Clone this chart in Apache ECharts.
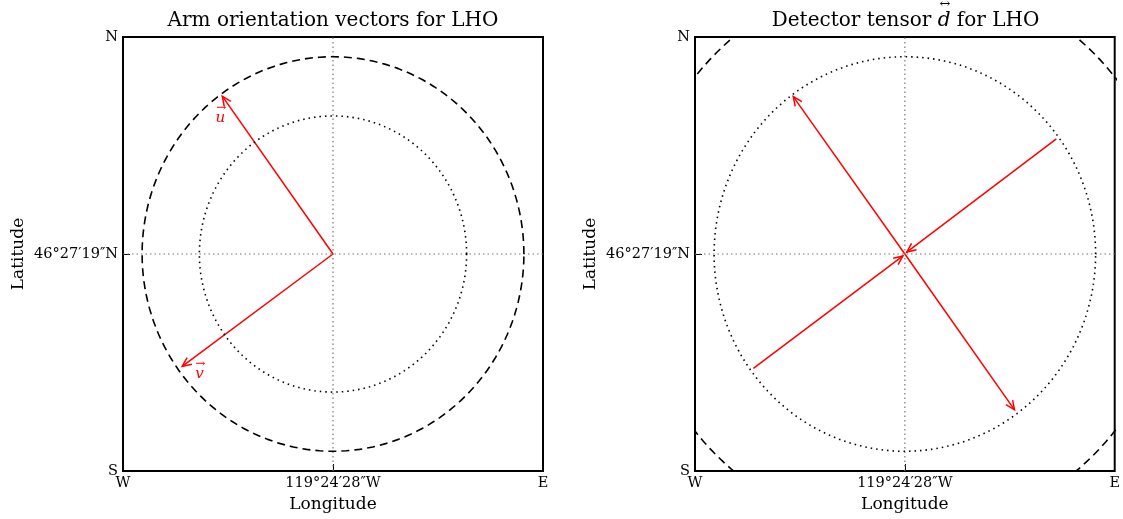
<!DOCTYPE html>
<html>
<head>
<meta charset="utf-8">
<script src="https://cdn.jsdelivr.net/npm/echarts@6/dist/echarts.min.js"></script>
<style>html,body{margin:0;padding:0;background:#fff}#c{width:1123px;height:519px}</style>
</head>
<body>
<div id="c"></div>
<script>
// ---- data ----
const axisMin = -1.1, axisMax = 1.1;
const tickValues = [-1.1, 0, 1.1];
const xTickLabels = ['W', '119°24′28″W', 'E'];
const yTickLabels = ['S', '46°27′19″N', 'N'];
const leftCircleRadii = [1.0, 0.7];      // dashed, dotted
const rightCircleRadii = [1.42, 1.0];    // dashed, dotted
const armU = [-0.58, 0.80];
const armV = [-0.79, -0.57];
const uLabelPos = [-0.59, 0.70];
const vLabelPos = [-0.70, -0.60];
// right panel: [x0, y0, x1, y1] (arrow head at x1,y1)
const tensorOutward = [[0, 0, -0.585, 0.798], [0, 0, 0.575, -0.79]];
const tensorInward = [[0.794, 0.584, 0.01, 0.01], [-0.794, -0.58, -0.01, -0.01]];

const FONT = '"DejaVu Serif", serif';
const RED = '#ff0000';

function circlePoints(r) {
  const pts = [];
  for (let i = 0; i <= 360; i += 2) {
    const a = i * Math.PI / 180;
    pts.push([r * Math.cos(a), r * Math.sin(a)]);
  }
  return pts;
}

function labelFor(labels) {
  return function (v) {
    for (let i = 0; i < tickValues.length; i++) if (Math.abs(tickValues[i] - v) < 1e-6) return labels[i];
    return '';
  };
}

const grids = [
  { left: 123, top: 37, width: 420, height: 434 },
  { left: 695, top: 37, width: 421, height: 434 }
];

function makeX(i) {
  return {
    type: 'value', gridIndex: i, min: axisMin, max: axisMax,
    axisLine: { show: false, onZero: false },
    splitLine: { show: false },
    axisTick: { show: true, inside: true, length: 7, customValues: [0], lineStyle: { color: '#000', width: 1 } },
    axisLabel: { customValues: tickValues, formatter: labelFor(xTickLabels), color: '#000', fontFamily: FONT, fontSize: 14.5, margin: 5 },
    name: 'Longitude', nameLocation: 'middle', nameGap: 25,
    nameTextStyle: { color: '#000', fontFamily: FONT, fontSize: 17 }
  };
}
function makeY(i) {
  return {
    type: 'value', gridIndex: i, min: axisMin, max: axisMax,
    axisLine: { show: false, onZero: false },
    splitLine: { show: false },
    axisTick: { show: true, inside: true, length: 7, customValues: [0], lineStyle: { color: '#000', width: 1 } },
    axisLabel: { customValues: tickValues, formatter: labelFor(yTickLabels), color: '#000', fontFamily: FONT, fontSize: 14.5, margin: 5 },
    name: 'Latitude', nameLocation: 'middle', nameGap: 96,
    nameTextStyle: { color: '#000', fontFamily: FONT, fontSize: 17 }
  };
}

function lineSeries(i, data, type, color, width) {
  return {
    type: 'line', xAxisIndex: i, yAxisIndex: i, data: data, showSymbol: false, symbol: 'none',
    clip: true, silent: true, smooth: false,
    lineStyle: { color: color, width: width, type: type }
  };
}

function arrowSeries(i, data) {
  return {
    type: 'custom', xAxisIndex: i, yAxisIndex: i, data: data, silent: true, clip: false,
    encode: { x: [0, 2], y: [1, 3] },
    renderItem: function (params, api) {
      const p0 = api.coord([api.value(0), api.value(1)]);
      const p1 = api.coord([api.value(2), api.value(3)]);
      const ang = Math.atan2(p1[1] - p0[1], p1[0] - p0[0]);
      const L = 10, h = 0.42;
      const b1 = [p1[0] - L * Math.cos(ang - h), p1[1] - L * Math.sin(ang - h)];
      const b2 = [p1[0] - L * Math.cos(ang + h), p1[1] - L * Math.sin(ang + h)];
      return {
        type: 'group', children: [
          { type: 'line', shape: { x1: p0[0], y1: p0[1], x2: p1[0], y2: p1[1] }, style: { stroke: RED, lineWidth: 1.5 } },
          { type: 'polyline', shape: { points: [b1, p1, b2] }, style: { stroke: RED, fill: null, lineWidth: 1.5 } }
        ]
      };
    }
  };
}

function vecLabelSeries(i, data, names) {
  return {
    type: 'custom', xAxisIndex: i, yAxisIndex: i, data: data, silent: true,
    renderItem: function (params, api) {
      const p = api.coord([api.value(0), api.value(1)]);
      const n = names[params.dataIndex];
      return {
        type: 'group', children: [
          { type: 'text', x: p[0], y: p[1] + 2, style: { text: n, fill: RED, font: 'italic 15px ' + FONT, align: 'center', verticalAlign: 'middle' } },
          { type: 'text', x: p[0] + 1, y: p[1] - 8, style: { text: '→', fill: RED, font: '12px ' + FONT, align: 'center', verticalAlign: 'middle' } }
        ]
      };
    }
  };
}

// titles
function textWidth(str, font) {
  const c = document.createElement('canvas').getContext('2d');
  c.font = font; return c.measureText(str).width;
}
const TFONT = '20px ' + FONT;
const TIFONT = 'italic 20px ' + FONT;
const t1 = 'Detector tensor ', t2 = 'd', t3 = ' for LHO';
const w1 = textWidth(t1, TFONT), w2 = textWidth(t2, TIFONT), w3 = textWidth(t3, TFONT);
const rc = 905.5;
const rs = rc - (w1 + w2 + w3) / 2;
const TY = 21;

const graphics = [
  { type: 'text', x: 333, y: TY, style: { text: 'Arm orientation vectors for LHO', font: TFONT, fill: '#000', align: 'center', verticalAlign: 'middle' } },
  { type: 'text', x: rs, y: TY, style: { text: t1, font: TFONT, fill: '#000', align: 'left', verticalAlign: 'middle' } },
  { type: 'text', x: rs + w1, y: TY, style: { text: t2, font: TIFONT, fill: '#000', align: 'left', verticalAlign: 'middle' } },
  { type: 'text', x: rs + w1 + w2 / 2 + 1, y: 5, style: { text: '↔', font: '13px ' + FONT, fill: '#000', align: 'center', verticalAlign: 'middle' } },
  { type: 'text', x: rs + w1 + w2, y: TY, style: { text: t3, font: TFONT, fill: '#000', align: 'left', verticalAlign: 'middle' } }
];

const gridOpts = grids.map(g => Object.assign({ show: true, borderColor: '#000', borderWidth: 2, backgroundColor: 'transparent', containLabel: false }, g));
const cross = [[axisMin, 0], [axisMax, 0]];
const crossV = [[0, axisMin], [0, axisMax]];

const option = {
  animation: false,
  backgroundColor: '#fff',
  grid: gridOpts,
  xAxis: [makeX(0), makeX(1)],
  yAxis: [makeY(0), makeY(1)],
  graphic: graphics,
  series: [
    lineSeries(0, cross, [1.5, 3], '#777', 1.2),
    lineSeries(0, crossV, [1.5, 3], '#777', 1.2),
    lineSeries(0, circlePoints(leftCircleRadii[0]), [8, 5], '#000', 1.6),
    lineSeries(0, circlePoints(leftCircleRadii[1]), [1.5, 4], '#000', 1.6),
    arrowSeries(0, [[0, 0, armU[0], armU[1]], [0, 0, armV[0], armV[1]]]),
    vecLabelSeries(0, [uLabelPos, vLabelPos], ['u', 'v']),
    lineSeries(1, cross, [1.5, 3], '#777', 1.2),
    lineSeries(1, crossV, [1.5, 3], '#777', 1.2),
    lineSeries(1, circlePoints(rightCircleRadii[0]), [8, 5], '#000', 1.6),
    lineSeries(1, circlePoints(rightCircleRadii[1]), [1.5, 4], '#000', 1.6),
    arrowSeries(1, tensorOutward.concat(tensorInward))
  ]
};
const chart = echarts.init(document.getElementById('c'), null, { renderer: 'canvas' });
chart.setOption(option);
</script>
</body>
</html>
